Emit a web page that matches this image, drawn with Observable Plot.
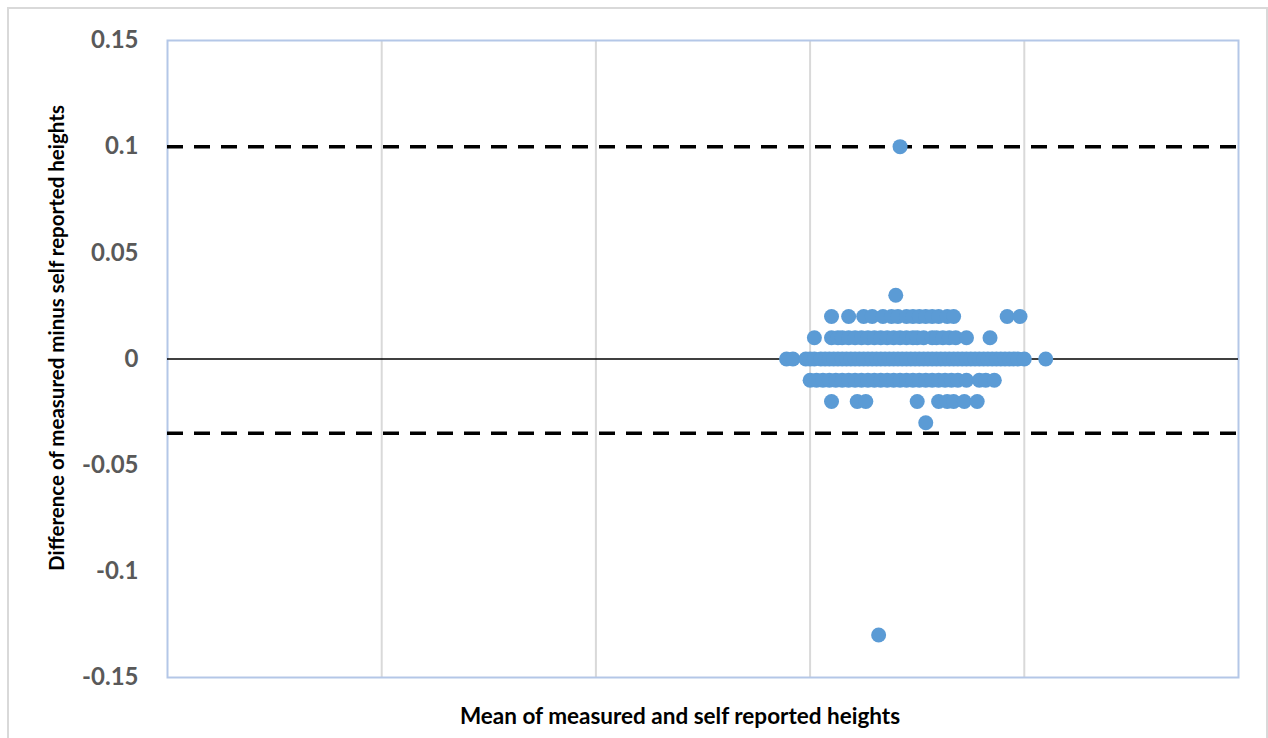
<!DOCTYPE html>
<html>
<head>
<meta charset="utf-8">
<script src="https://cdn.jsdelivr.net/npm/d3@7"></script>
<script src="https://cdn.jsdelivr.net/npm/@observablehq/plot@0.6"></script>
<style>
  body { margin: 0; background: #fff; }
  #chart { position: relative; width: 1268px; height: 738px; overflow: hidden; }
  #chart svg { position: absolute; left: 0; top: 0; }
  #outline { position: absolute; left: 7px; top: 7px; width: 1261px; height: 780px;
             border: 2px solid #d9d9d9; box-sizing: border-box; }
</style>
</head>
<body>
<div id="chart"><div id="outline"></div></div>
<script>
// Mean heights (m) of each participant, grouped by the measured minus self-reported difference (m)
const diffLevels = [0.1, 0.03, 0.02, 0.01, 0, -0.01, -0.02, -0.03, -0.13];
const meansAt0_10 = [1.71];
const meansAt0_03 = [1.70];
const meansAt0_02 = [1.55, 1.59, 1.625, 1.645, 1.67, 1.69, 1.705, 1.725, 1.74, 1.755, 1.77,
                     1.785, 1.80, 1.82, 1.835, 1.96, 1.99];
const meansAt0_01 = [1.51, 1.55, 1.565, 1.575, 1.59, 1.605, 1.62, 1.635, 1.65, 1.665, 1.68,
                     1.695, 1.71, 1.725, 1.74, 1.75, 1.765, 1.785, 1.795, 1.81, 1.825, 1.84,
                     1.865, 1.92];
const meansAt0_00 = [1.445, 1.46, 1.49, 1.50, 1.51, 1.525, 1.535, 1.545, 1.555, 1.565, 1.575,
                     1.585, 1.595, 1.605, 1.615, 1.625, 1.635, 1.645, 1.655, 1.665, 1.675,
                     1.685, 1.695, 1.705, 1.715, 1.725, 1.735, 1.745, 1.755, 1.765, 1.775,
                     1.785, 1.795, 1.805, 1.815, 1.825, 1.835, 1.845, 1.855, 1.865, 1.875,
                     1.885, 1.895, 1.905, 1.915, 1.925, 1.935, 1.945, 1.955, 1.965, 1.975,
                     1.985, 2.0, 2.05];
const meansAtM0_01 = [1.50, 1.515, 1.53, 1.545, 1.56, 1.575, 1.59, 1.605, 1.62, 1.635, 1.65,
                      1.665, 1.68, 1.695, 1.71, 1.725, 1.74, 1.755, 1.77, 1.785, 1.80, 1.815,
                      1.83, 1.845, 1.865, 1.895, 1.91, 1.93];
const meansAtM0_02 = [1.55, 1.61, 1.63, 1.75, 1.80, 1.82, 1.835, 1.86, 1.89];
const meansAtM0_03 = [1.77];
const meansAtM0_13 = [1.66];

// Limits of agreement (dashed lines)
const limits = [0.1, -0.035];

// Axis ticks
const xGrid = [0.5, 1, 1.5, 2];
const yTicks = [-0.15, -0.1, -0.05, 0, 0.05, 0.1, 0.15];
const yTickLabels = ["-0.15", "-0.1", "-0.05", "0", "0.05", "0.1", "0.15"];

const xTitle = "Mean of measured and self reported heights";
const yTitle = "Difference of measured minus self reported heights";

const groups = [meansAt0_10, meansAt0_03, meansAt0_02, meansAt0_01, meansAt0_00,
                meansAtM0_01, meansAtM0_02, meansAtM0_03, meansAtM0_13];
const points = groups.flatMap((means, i) => means.map(mean => ({mean, diff: diffLevels[i]})));

const plot = Plot.plot({
  width: 1268,
  height: 738,
  marginLeft: 167,
  marginRight: 30,
  marginTop: 40,
  marginBottom: 61,
  style: {fontFamily: "Lato, 'Open Sans', sans-serif", background: "transparent", overflow: "visible"},
  x: {domain: [0, 2.5]},
  y: {domain: [-0.15, 0.15]},
  marks: [
    Plot.ruleX(xGrid, {stroke: "#d9d9d9", strokeWidth: 2}),
    Plot.frame({stroke: "#b4c7e7", strokeWidth: 2}),
    Plot.axisX({ticks: [], label: null}),
    Plot.axisY({
      ticks: yTicks,
      tickSize: 0,
      tickPadding: 29,
      tickFormat: d => yTickLabels[yTicks.indexOf(d)],
      label: null,
      fontSize: 24,
      fontWeight: "bold",
      fill: "#595959"
    }),
    Plot.ruleY([0], {stroke: "#000", strokeWidth: 1.5}),
    Plot.ruleY(limits, {stroke: "#000", strokeWidth: 3.5, strokeDasharray: "16,11"}),
    Plot.dot(points, {x: "mean", y: "diff", r: 7.5, fill: "#5b9bd5", stroke: "none"}),
    Plot.text([xTitle], {frameAnchor: "bottom", textAnchor: "middle", lineAnchor: "middle",
                         dx: -23, dy: 39, fontSize: 22.5, fontWeight: "bold", fill: "#000"}),
    Plot.text([yTitle], {frameAnchor: "left", textAnchor: "middle", lineAnchor: "middle",
                         rotate: -90, dx: -110, dy: -21, fontSize: 20.5, fontWeight: "bold",
                         fill: "#000"})
  ]
});

document.getElementById("chart").appendChild(plot);
</script>
</body>
</html>
